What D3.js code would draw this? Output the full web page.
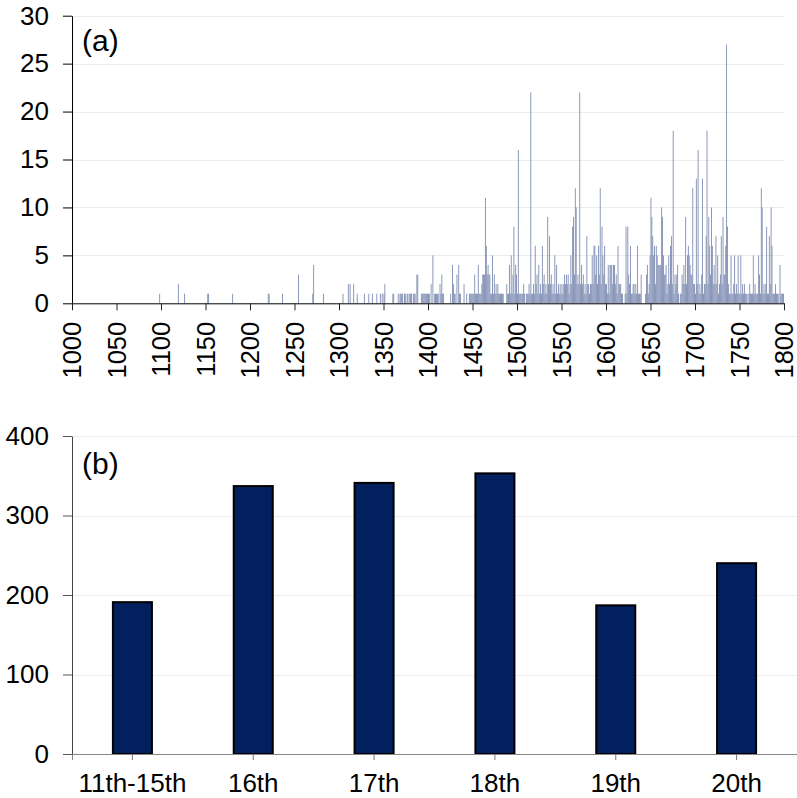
<!DOCTYPE html>
<html lang="en">
<head>
<meta charset="UTF-8">
<title>Counts per year and per century</title>
<script src="https://d3js.org/d3.v7.min.js"></script>
<style>
  html, body { margin: 0; padding: 0; background: #fff; }
  svg { display: block; font-family: "Liberation Sans", Arial, sans-serif; }
  .tick text { fill: #000; }
</style>
</head>
<body>
<div id="chart"></div>
<script>
// ---- panel (a): yearly counts ----
// sparse years before 1400
const earlyYears = [1098,1119,1126,1152,1153,1180,1220,1221,1236,1254,1270,1271,1282,1304,1310,
  1312,1316,1320,1328,1333,1337,1342,1346,1348,1350,1351,1360,1361,1366,1368,1369,1370,1371,
  1373,1374,1376,1377,1379,1380,1381,1383,1384,1385,1387,1388,1392,1393,1394,1395,1396,1397,1398,1399];
const earlyCounts = [1,2,1,1,1,1,1,1,1,3,1,4,1,1,2,
  2,2,1,1,1,1,1,1,1,1,2,1,1,1,1,1,1,1,
  1,1,1,1,1,1,1,1,1,1,3,3,1,1,1,1,1,1,1,1];

// one value per year, a row per decade
const counts1400s = [
  1,1,0,2,0,5,0,1,1,1,
  1,1,0,2,1,3,1,1,0,0,
  0,0,0,0,0,1,0,4,2,1,
  1,0,3,0,4,1,1,0,0,0,
  2,0,0,1,0,0,1,1,1,1,
  1,1,3,1,1,1,4,1,1,1,
  2,3,3,3,11,6,3,4,3,3,
  1,1,5,1,3,1,2,1,2,1,
  1,1,1,1,1,0,0,0,2,1,
  1,4,1,5,1,3,8,1,4,3];
const counts1500s = [
  1,16,1,1,1,1,1,2,1,0,
  1,1,1,2,1,22,1,1,2,1,
  6,2,3,1,4,1,2,1,6,2,
  3,1,2,1,9,2,7,2,3,1,
  2,1,5,1,4,1,2,1,2,1,
  2,1,2,3,2,3,2,3,1,2,
  5,2,8,9,3,12,10,2,3,2,
  22,2,4,2,3,1,2,1,7,2,
  2,1,2,2,5,2,6,6,3,5,
  2,6,3,12,2,8,5,3,6,2];
const counts1600s = [
  2,1,4,1,4,4,4,2,4,4,
  2,3,1,6,2,2,2,1,1,0,
  0,1,8,1,8,3,2,6,1,1,
  2,2,1,2,1,6,1,1,1,3,
  0,0,0,0,1,3,4,1,2,5,
  11,9,7,5,6,2,6,5,4,4,
  4,4,10,9,5,3,3,4,1,2,
  5,2,6,7,2,18,1,3,2,3,
  4,1,0,1,1,3,2,4,2,9,
  2,5,6,5,4,3,3,12,2,2];
const counts1700s = [
  1,13,2,16,1,2,1,3,13,1,
  2,2,7,18,2,9,6,3,10,6,
  2,4,2,7,2,5,1,2,3,7,
  2,9,3,3,6,27,8,2,1,1,
  5,1,1,2,5,1,2,1,5,1,
  1,5,1,2,1,2,1,1,1,0,
  1,2,1,1,1,5,1,2,1,1,
  1,5,3,1,12,10,1,2,1,2,
  8,1,1,7,2,10,6,1,1,1,
  2,1,1,1,0,4,1,1,1,1];

const yTicksA = [0, 5, 10, 15, 20, 25, 30];
const xTicksA = [1000,1050,1100,1150,1200,1250,1300,1350,1400,1450,1500,1550,1600,1650,1700,1750,1800];

// ---- panel (b): totals per century ----
const centuries = ["11th-15th", "16th", "17th", "18th", "19th", "20th"];
const centuryTotals = [191, 337, 341, 353, 187, 240];
const yTicksB = [0, 100, 200, 300, 400];

const W = 797, H = 798;
const svg = d3.select("#chart").append("svg").attr("width", W).attr("height", H);

// build year records
const yearly = [];
earlyYears.forEach((yr, i) => yearly.push({ year: yr, n: earlyCounts[i] }));
[[1400, counts1400s], [1500, counts1500s], [1600, counts1600s], [1700, counts1700s]].forEach(([start, arr]) => {
  arr.forEach((n, i) => { if (n > 0) yearly.push({ year: start + i, n: n }); });
});

// ===== panel (a) =====
const xA = d3.scaleLinear().domain([1000, 1800]).range([72, 784]);
const yA = d3.scaleLinear().domain([0, 30]).range([303.3, 15.7]);

const gA = svg.append("g");

gA.append("g").selectAll("line")
  .data(yTicksA.filter(d => d > 0))
  .enter().append("line")
  .attr("x1", xA(1000)).attr("x2", xA(1800) + 1)
  .attr("y1", d => Math.round(yA(d)) + 0.5).attr("y2", d => Math.round(yA(d)) + 0.5)
  .attr("stroke", "#ececec").attr("stroke-width", 1);

gA.append("g").selectAll("rect")
  .data(yearly)
  .enter().append("rect")
  .attr("x", d => xA(d.year))
  .attr("width", d => xA(d.year + 1) - xA(d.year))
  .attr("y", d => yA(d.n))
  .attr("height", d => yA(0) - yA(d.n))
  .attr("fill", "#7f8db2");

const axLeftA = gA.append("g")
  .attr("transform", `translate(${xA(1000)},0)`)
  .call(d3.axisLeft(yA).tickValues(yTicksA).tickSize(9).tickPadding(14).tickSizeOuter(0));
axLeftA.select(".domain").attr("stroke", "#000");
axLeftA.selectAll(".tick line").attr("stroke", "#000");
axLeftA.selectAll("text").style("font-size", "26px");

const axBotA = gA.append("g")
  .attr("transform", `translate(0,${yA(0)})`)
  .call(d3.axisBottom(xA).tickValues(xTicksA).tickSize(7).tickSizeOuter(0).tickFormat(d3.format("d")));
axBotA.select(".domain").attr("stroke", "#000");
axBotA.selectAll(".tick line").attr("stroke", "#222");
axBotA.selectAll("text")
  .style("font-size", "25.5px")
  .attr("transform", "rotate(-90)")
  .attr("x", -18.5)
  .attr("y", 0)
  .attr("dy", "0.35em")
  .attr("text-anchor", "end");

gA.append("text")
  .attr("x", 82).attr("y", 50.5)
  .style("font-size", "30px")
  .text("(a)");

// ===== panel (b) =====
const xB = d3.scaleBand().domain(centuries).range([72, 797]).paddingInner(0.677).paddingOuter(0.3385);
const yB = d3.scaleLinear().domain([0, 400]).range([754, 436]);

const gB = svg.append("g");

gB.append("g").selectAll("line")
  .data(yTicksB.filter(d => d > 0))
  .enter().append("line")
  .attr("x1", 72).attr("x2", 797)
  .attr("y1", d => Math.round(yB(d)) + 0.5).attr("y2", d => Math.round(yB(d)) + 0.5)
  .attr("stroke", "#ececec").attr("stroke-width", 1);

gB.append("g").selectAll("rect")
  .data(centuries)
  .enter().append("rect")
  .attr("x", d => xB(d))
  .attr("width", xB.bandwidth())
  .attr("y", (d, i) => yB(centuryTotals[i]))
  .attr("height", (d, i) => yB(0) - yB(centuryTotals[i]))
  .attr("fill", "#02205e")
  .attr("stroke", "#000")
  .attr("stroke-width", 2);

const axBotB = gB.append("g")
  .attr("transform", `translate(0,${yB(0)})`)
  .call(d3.axisBottom(xB).tickSize(6).tickSizeOuter(6));
axBotB.select(".domain").attr("stroke", "#888");
axBotB.selectAll(".tick line").attr("stroke", "#777");
axBotB.selectAll("text")
  .style("font-size", "26px")
  .attr("y", 38)
  .attr("dy", 0);

const axLeftB = gB.append("g")
  .attr("transform", "translate(72,0)")
  .call(d3.axisLeft(yB).tickValues(yTicksB).tickSize(9).tickPadding(14).tickSizeOuter(0));
axLeftB.select(".domain").attr("stroke", "#444");
axLeftB.selectAll(".tick line").attr("stroke", "#555");
axLeftB.selectAll("text").style("font-size", "26px");

gB.append("text")
  .attr("x", 82).attr("y", 473.5)
  .style("font-size", "30px")
  .text("(b)");
</script>
</body>
</html>
